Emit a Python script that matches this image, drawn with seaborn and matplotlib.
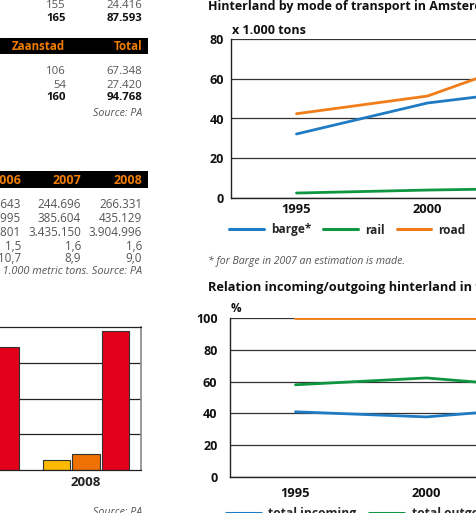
import matplotlib
matplotlib.use("Agg")
import matplotlib.pyplot as plt
import seaborn as sns
import pandas as pd
from matplotlib.lines import Line2D

# ---------------- data ----------------
# table 1 (fragment)
t1_top_rows = [("155", "24.416", False), ("165", "87.593", True)]
t1_header = ["Zaanstad", "Total"]
t1_rows = [("106", "67.348", False), ("54", "27.420", False), ("160", "94.768", True)]

# table 2 (fragment)
t2_header = ["2006", "2007", "2008"]
t2_rows = [
    ("228.643", "244.696", "266.331"),
    ("337.995", "385.604", "435.129"),
    ("3.207.801", "3.435.150", "3.904.996"),
    ("1,5", "1,6", "1,6"),
    ("10,7", "8,9", "9,0"),
]

# bar chart (fragment)
bar_years = ["2007", "2008"]
bar_series = ["a", "b", "c"]
bar_values = {"a": [6.0, 7.0], "b": [10.0, 11.2], "c": [86.0, 97.2]}

# hinterland by mode
years = ["1995", "2000", "2005"]
barge = [32.2, 47.8, 55.8]
rail = [2.5, 4.0, 5.0]
road = [42.4, 51.3, 74.8]

# relation incoming / outgoing
incoming = [41.0, 37.8, 44.5]
outgoing = [58.0, 62.3, 55.5]
total = [100.0, 100.0, 100.0]

# ---------------- style ----------------
sns.set_style("white")
FONT = ["Open Sans", "DejaVu Sans"]
plt.rcParams["font.family"] = FONT

W, H = 477, 513
fig = plt.figure(figsize=(W / 100, H / 100), dpi=100)

BLUE = "#1f7cc4"
GREEN = "#0f9640"
ORANGE = "#f07d1a"
TXT = "#555555"
HEAD_OR = "#f07d00"


def pax(left, top, right, bottom):
    return fig.add_axes([left / W, 1 - bottom / H, (right - left) / W, (bottom - top) / H])


def ftext(x, y, s, **kw):
    kw.setdefault("va", "center")
    fig.text(x / W, 1 - y / H, s, **kw)


def header_bar(top, bottom):
    ax = pax(0, top, 148, bottom)
    ax.set_axis_off()
    ax.add_patch(plt.Rectangle((0, 0), 1, 1, color="black", transform=ax.transAxes))


# ---------------- table 1 ----------------
FS = 8.2
for (a, b, bold), y in zip(t1_top_rows, [6, 19]):
    w = "bold" if bold else "normal"
    c = "#111111" if bold else TXT
    ftext(66, y, a, ha="right", fontsize=FS, fontweight=w, color=c)
    ftext(142, y, b, ha="right", fontsize=FS, fontweight=w, color=c)

header_bar(38, 54)
ftext(65, 46, t1_header[0], ha="right", fontsize=8.3, fontweight="bold", color=HEAD_OR)
ftext(142, 46, t1_header[1], ha="right", fontsize=8.3, fontweight="bold", color=HEAD_OR)
for (a, b, bold), y in zip(t1_rows, [72, 85, 98]):
    w = "bold" if bold else "normal"
    c = "#111111" if bold else TXT
    ftext(66, y, a, ha="right", fontsize=FS, fontweight=w, color=c)
    ftext(142, y, b, ha="right", fontsize=FS, fontweight=w, color=c)
ftext(142, 114, "Source: PA", ha="right", fontsize=7.7, style="italic", color=TXT)

# ---------------- table 2 ----------------
header_bar(171, 188)
for s, x in zip(t2_header, [21, 81, 142]):
    ftext(x, 180, s, ha="right", fontsize=9, fontweight="bold", color=HEAD_OR)
for row, y in zip(t2_rows, [205, 218, 232, 246, 259]):
    for s, x in zip(row, [21, 81, 142]):
        ftext(x, y, s, ha="right", fontsize=8.4, color=TXT)
ftext(142, 272, "Unit: 1.000 metric tons. Source: PA", ha="right", fontsize=7.8,
      style="italic", color=TXT)

# ---------------- bar chart ----------------
axb = pax(-79, 327, 141, 470)
bar_df = pd.DataFrame(
    [(yr, s, bar_values[s][i]) for i, yr in enumerate(bar_years) for s in bar_series],
    columns=["year", "series", "value"],
)
sns.barplot(data=bar_df, x="year", y="value", hue="series",
            palette=["#fbb900", "#ee7203", "#e3001b"], gap=0.07, saturation=1,
            edgecolor="#333333", linewidth=0.8, legend=False, ax=axb)
axb.set_xlim(-0.5, 1.5)
axb.set_ylim(0, 100)
axb.set_yticks([25, 50, 75])
axb.yaxis.grid(True, color="#222222", linewidth=0.9)
axb.set_axisbelow(True)
axb.set_yticklabels([])
axb.tick_params(axis="y", length=0)
axb.set_xlabel("")
axb.set_ylabel("")
axb.set_xticks([1], labels=["2008"])
axb.set_xticks([0.5], minor=True)
axb.tick_params(axis="x", which="major", length=0, pad=4, labelsize=9.5)
axb.tick_params(axis="x", which="minor", length=3, direction="in", color="#333333", width=0.8)
for lbl in axb.get_xticklabels():
    lbl.set_fontweight("bold")
    lbl.set_color("#222222")
for side in ["top", "bottom"]:
    axb.spines[side].set_color("#222222")
    axb.spines[side].set_linewidth(0.9)
axb.spines["right"].set_color("#888888")
axb.spines["right"].set_linewidth(1.2)
axb.spines["left"].set_visible(False)
ftext(142, 507, "Source: PA", ha="right", va="top", fontsize=7.7, style="italic", color=TXT)


# ---------------- line charts ----------------
def line_chart(ax, series, colors, ylim, yticks, ypad, xpad):
    rows = []
    for name, vals in series.items():
        for i, v in enumerate(vals):
            rows.append((i, v, name))
    df = pd.DataFrame(rows, columns=["pos", "value", "series"])
    sns.lineplot(data=df, x="pos", y="value", hue="series", palette=colors,
                 linewidth=2.0, legend=False, ax=ax, sort=False)
    ax.set_xlim(-0.5, 2.5)
    ax.set_ylim(*ylim)
    ax.set_yticks(yticks)
    ax.yaxis.grid(True, color="#333333", linewidth=0.9)
    ax.set_axisbelow(True)
    ax.set_xticks(range(len(years)), labels=years)
    ax.set_xticks([0.5, 1.5], minor=True)
    ax.tick_params(axis="x", which="major", length=0, pad=xpad, labelsize=9.3)
    ax.tick_params(axis="x", which="minor", length=3.5, direction="in", color="#333333", width=0.9)
    ax.tick_params(axis="y", length=0, pad=ypad, labelsize=9)
    for lbl in ax.get_xticklabels() + ax.get_yticklabels():
        lbl.set_fontweight("bold")
        lbl.set_color("#111111")
    ax.set_xlabel("")
    ax.set_ylabel("")
    for side in ["left", "bottom"]:
        ax.spines[side].set_color("#222222")
        ax.spines[side].set_linewidth(1.0)
    ax.spines["top"].set_visible(False)
    ax.spines["right"].set_visible(False)


ax1 = pax(231, 39, 231 + 3 * 131, 198)
line_chart(ax1, {"barge*": barge, "rail": rail, "road": road},
           {"barge*": BLUE, "rail": GREEN, "road": ORANGE},
           (0, 80), [0, 20, 40, 60, 80], ypad=5, xpad=3.5)
ftext(208, 7, "Hinterland by mode of transport in Amsterdam", ha="left", fontsize=9.0,
      fontweight="bold", color="#111111")
ftext(232, 30, "x 1.000 tons", ha="left", fontsize=9, fontweight="bold", color="#111111")

handles1 = [Line2D([], [], color=c, lw=2.2) for c in (BLUE, GREEN, ORANGE)]
fig.legend(handles1, ["barge*", "rail", "road"], loc="center left",
           bbox_to_anchor=(229 / W, 1 - 230 / H), bbox_transform=fig.transFigure,
           ncol=3, frameon=False, borderpad=0, borderaxespad=0,
           handlelength=2.9, handletextpad=0.6, columnspacing=1.0,
           prop={"family": FONT, "weight": "bold", "size": 8.6})
ftext(208, 261, "* for Barge in 2007 an estimation is made.", ha="left", fontsize=7.6,
      style="italic", color=TXT)

ax2 = pax(230, 318, 230 + 3 * 131, 477)
line_chart(ax2, {"total incoming": incoming, "total outgoing": outgoing, "total": total},
           {"total incoming": BLUE, "total outgoing": GREEN, "total": ORANGE},
           (0, 100), [0, 20, 40, 60, 80, 100], ypad=9, xpad=7)
ftext(208, 287, "Relation incoming/outgoing hinterland in %", ha="left", fontsize=9.2,
      fontweight="bold", color="#111111")
ftext(231, 308, "%", ha="left", fontsize=8.5, fontweight="bold", color="#111111")

handles2 = [Line2D([], [], color=c, lw=2.2) for c in (BLUE, GREEN, ORANGE)]
fig.legend(handles2, ["total incoming", "total outgoing", "total"], loc="center left",
           bbox_to_anchor=(226 / W, 1 - 514 / H), bbox_transform=fig.transFigure,
           ncol=3, frameon=False, borderpad=0, borderaxespad=0,
           handlelength=2.9, handletextpad=0.6, columnspacing=1.05,
           prop={"family": FONT, "weight": "bold", "size": 8.7})

fig.savefig("out.png", dpi=100)
